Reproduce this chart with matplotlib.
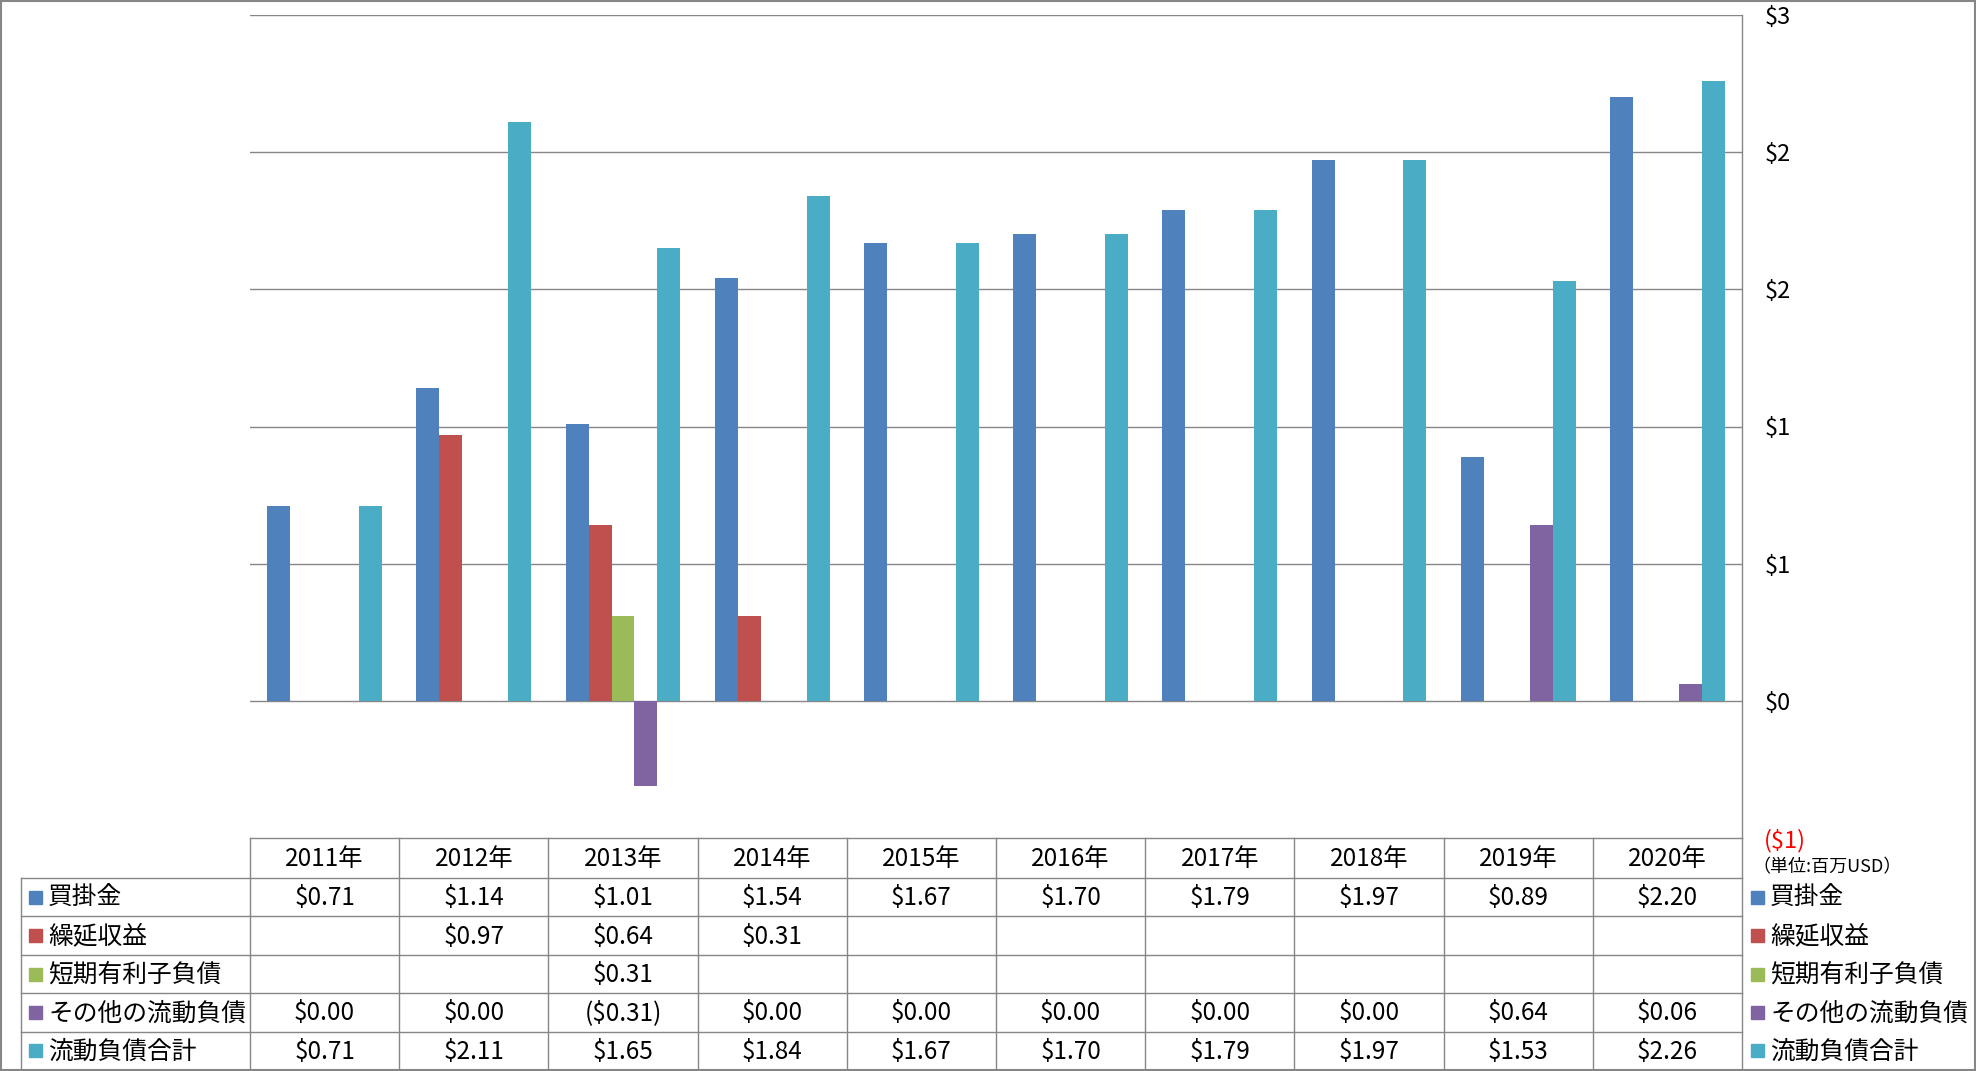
import matplotlib
matplotlib.use('Agg')
import matplotlib.pyplot as plt
import numpy as np

plt.rcParams['font.family'] = ['Noto Sans CJK JP', 'DejaVu Sans']

# データ (単位: 百万USD)
years = ["2011年", "2012年", "2013年", "2014年", "2015年",
         "2016年", "2017年", "2018年", "2019年", "2020年"]
series_names = ["買掛金", "繰延収益", "短期有利子負債", "その他の流動負債", "流動負債合計"]
kaikake = [0.71, 1.14, 1.01, 1.54, 1.67, 1.70, 1.79, 1.97, 0.89, 2.20]
kurinobe = [None, 0.97, 0.64, 0.31, None, None, None, None, None, None]
tanki = [None, None, 0.31, None, None, None, None, None, None, None]
sonota = [0.00, 0.00, -0.31, 0.00, 0.00, 0.00, 0.00, 0.00, 0.64, 0.06]
goukei = [0.71, 2.11, 1.65, 1.84, 1.67, 1.70, 1.79, 1.97, 1.53, 2.26]
series = [kaikake, kurinobe, tanki, sonota, goukei]
colors = ["#4F81BD", "#C0504D", "#9BBB59", "#8064A2", "#4BACC6"]

yticks = [-0.5, 0, 0.5, 1.0, 1.5, 2.0, 2.5]
ytick_labels = ["($1)", "$0", "$1", "$1", "$2", "$2", "$3"]

W, H = 1976, 1071
fig = plt.figure(figsize=(W / 100, H / 100), dpi=100)

# 表の位置 (ピクセル)
x_left = 250
x_right = 1742
y_top = 15
y_bottom = 838
row_h = 38.4
grid_c = "#868686"

ax = fig.add_axes([x_left / W, 1 - y_bottom / H, (x_right - x_left) / W, (y_bottom - y_top) / H])
n = len(years)
x = np.arange(n)
bw = 0.154
for i, (vals, c) in enumerate(zip(series, colors)):
    v = [np.nan if a is None else a for a in vals]
    ax.bar(x + (i - 2) * bw, v, width=bw, color=c, zorder=2)

ax.set_xlim(-0.5, n - 0.5)
ax.set_ylim(-0.5, 2.5)
for yv in yticks[1:]:
    ax.axhline(yv, color=grid_c, lw=1.0, zorder=1)
ax.yaxis.tick_right()
ax.set_yticks(yticks)
ax.set_yticklabels(ytick_labels, fontsize=17)
ax.get_yticklabels()[0].set_color("red")
ax.tick_params(axis='y', length=0, pad=16)
ax.set_xticks([])
for s in ["left", "top", "bottom"]:
    ax.spines[s].set_visible(False)
ax.spines["right"].set_color(grid_c)
ax.spines["right"].set_linewidth(1.0)
ax.patch.set_alpha(0)

# データテーブル
tab = fig.add_axes([0, 0, 1, 1], zorder=-1)
tab.set_xlim(0, W)
tab.set_ylim(H, 0)
tab.axis("off")
col_w = (x_right - x_left) / n
label_left = 21
hdr_bottom = 878
line_kw = dict(color=grid_c, lw=1.0)

# 横線
tab.plot([x_left, x_right], [y_bottom, y_bottom], **line_kw)
for r in range(len(series) + 1):
    yy = hdr_bottom + r * row_h
    tab.plot([label_left, x_right], [yy, yy], **line_kw)
# 縦線
tab.plot([label_left, label_left], [hdr_bottom, H - 1], **line_kw)
for c in range(n + 1):
    xx = x_left + c * col_w
    tab.plot([xx, xx], [y_bottom, H - 1], **line_kw)

for c, yr in enumerate(years):
    tab.text(x_left + (c + 0.5) * col_w, (y_bottom + hdr_bottom) / 2 + 1, yr,
             ha="center", va="center", fontsize=17.5)


def fmt(v):
    if v is None:
        return ""
    if v < 0:
        return f"(${-v:.2f})"
    return f"${v:.2f}"


for r, (name, vals, col) in enumerate(zip(series_names, series, colors)):
    yc = hdr_bottom + (r + 0.5) * row_h
    tab.add_patch(plt.Rectangle((29, yc - 6.5), 13, 13, color=col))
    tab.text(48, yc + 1, name, ha="left", va="center", fontsize=17.8)
    for c, v in enumerate(vals):
        tab.text(x_left + (c + 0.5) * col_w, yc + 1, fmt(v), ha="center", va="center", fontsize=17.5)
    # 右側の凡例
    tab.add_patch(plt.Rectangle((1751, yc - 6.5), 13, 13, color=col))
    tab.text(1770, yc + 1, name, ha="left", va="center", fontsize=17.8)

tab.text(1752, 867, "（単位:百万USD）", ha="left", va="center", fontsize=13)

# 外枠
tab.add_patch(plt.Rectangle((0.5, 0.5), W - 1.5, H - 1.5, fill=False, ec=grid_c, lw=1.5))

fig.savefig("out.png", dpi=100)
